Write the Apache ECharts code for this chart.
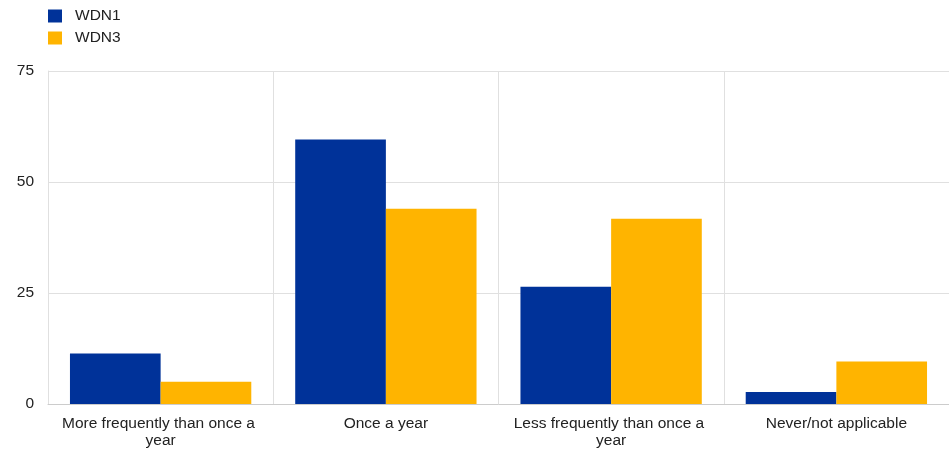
<!DOCTYPE html>
<html>
<head>
<meta charset="utf-8">
<script src="https://cdn.jsdelivr.net/npm/echarts@6/dist/echarts.min.js"></script>
<style>html,body{margin:0;padding:0;background:#fff;}#c{width:949px;height:452px;}</style>
</head>
<body>
<div id="c"></div>
<script>
const categories = ["More frequently than once a year", "Once a year", "Less frequently than once a year", "Never/not applicable"];
const seriesNames = ["WDN1", "WDN3"];
const wdn1 = [11.4, 59.6, 26.4, 2.7];
const wdn3 = [5.0, 44.0, 41.7, 9.6];
const yTicks = [0, 25, 50, 75];

const chart = echarts.init(document.getElementById('c'));
const font = "'Liberation Sans', Arial, sans-serif";
const fs = 15.5;
chart.setOption({
  animation: false,
  color: ['#003299', '#FFB400'],
  textStyle: { fontFamily: font },
  legend: {
    orient: 'vertical', left: 43, top: 3, itemWidth: 14, itemHeight: 13, itemGap: 6,
    icon: 'rect',
    textStyle: { fontSize: fs, color: '#222', fontFamily: font, padding: [0,0,0,8] },
    data: seriesNames
  },
  grid: { left: 48, right: 0, top: 71, bottom: 48 },
  xAxis: {
    type: 'category', data: categories,
    axisLine: { lineStyle: { color: '#cccccc', width: 1 } },
    axisTick: { show: false },
    splitLine: { show: true, lineStyle: { color: '#e0e0e0' } },
    axisLabel: { fontSize: fs, color: '#222', fontFamily: font, width: 205, overflow: 'break', lineHeight: 17, margin: 11, interval: 0 }
  },
  yAxis: {
    type: 'value', min: 0, max: 75, interval: 25,
    axisLine: { show: true, lineStyle: { color: '#e0e0e0' } },
    axisTick: { show: false },
    splitLine: { lineStyle: { color: '#e0e0e0' } },
    axisLabel: { fontSize: fs, color: '#222', fontFamily: font, margin: 14,
      formatter: v => yTicks.includes(v) ? String(v) : '' }
  },
  series: [
    { name: seriesNames[0], type: 'bar', data: wdn1, barGap: '0%', barCategoryGap: '19.5%' },
    { name: seriesNames[1], type: 'bar', data: wdn3, barGap: '0%', barCategoryGap: '19.5%' }
  ]
});
</script>
</body>
</html>
